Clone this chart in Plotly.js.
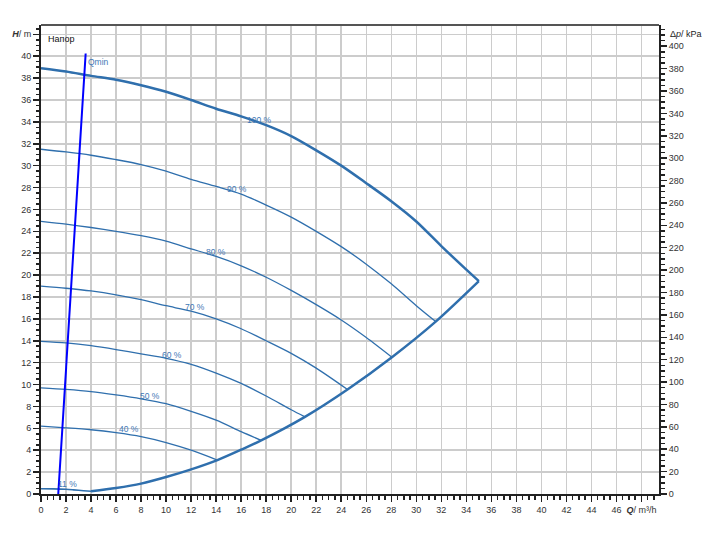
<!DOCTYPE html>
<html>
<head>
<meta charset="utf-8">
<script src="https://cdn.plot.ly/plotly-3.0.1.min.js"></script>
<style>html,body{margin:0;padding:0;background:#fff;}#chart{width:708px;height:535px;}</style>
</head>
<body>
<div id="chart"></div>
<script>
// Speed curves (Q in m³/h, H in m)
const q100 = [0,2,4,6,8,10,12,14,16,18,20,22,24,26,28,30,32,34,35.0];
const h100 = [38.9,38.6,38.2,37.85,37.35,36.75,36.0,35.2,34.5,33.7,32.7,31.4,30.0,28.4,26.75,24.9,22.65,20.5,19.45];
const q90 = [0,2,4,6,8,10,12,14,16,18,20,22,24,26,28,30,31.55];
const h90 = [31.5,31.25,30.95,30.55,30.1,29.5,28.75,28.1,27.4,26.4,25.3,24.0,22.6,21.0,19.2,17.2,15.75];
const q80 = [0,2,4,6,8,10,12,14,16,18,20,22,24,26,28.05];
const h80 = [24.9,24.65,24.35,24.0,23.6,23.1,22.4,21.7,20.85,19.8,18.6,17.3,15.9,14.3,12.5];
const q70 = [0,2,4,6,8,10,12,14,16,18,20,22,24.5];
const h70 = [19.0,18.8,18.55,18.2,17.75,17.2,16.7,16.0,15.1,14.0,12.85,11.5,9.55];
const q60 = [0,2,4,6,8,10,12,14,16,18,20,21.1];
const h60 = [13.95,13.8,13.55,13.2,12.8,12.4,11.85,11.05,10.1,8.95,7.7,7.05];
const q50 = [0,2,4,6,8,10,12,14,16,17.6];
const h50 = [9.7,9.55,9.35,9.05,8.7,8.25,7.55,6.75,5.7,4.9];
const q40 = [0,2,4,6,8,10,12,14.1];
const h40 = [6.2,6.05,5.87,5.6,5.24,4.7,4.0,3.1];
const q11 = [0,1,2,2.6,3.4,4.0];
const h11 = [0.48,0.47,0.43,0.38,0.3,0.25];
// Limit curve (end of speed curves)
const qLim = [4.0,6,8,10,12,14.1,16,17.6,21.1,24.5,28.05,31.55,35.0];
const hLim = [0.25,0.55,0.95,1.55,2.25,3.1,4.05,4.9,7.05,9.55,12.5,15.75,19.45];
// Qmin line
const qMin = [1.38,3.57];
const hMin = [0,40.25];

// Curve labels
const curveLabels = ['100 %','90 %','80 %','70 %','60 %','50 %','40 %','11 %'];
const labelQ = [17.5,15.7,14.0,12.3,10.5,8.7,7.05,2.1];
const labelH = [34.15,27.85,22.1,17.1,12.7,8.95,5.9,0.9];

// Tick labels
const xTicks = [0,2,4,6,8,10,12,14,16,18,20,22,24,26,28,30,32,34,36,38,40,42,44,46,48];
const yTicks = [0,2,4,6,8,10,12,14,16,18,20,22,24,26,28,30,32,34,36,38,40,42];
const y2Ticks = [0,20,40,60,80,100,120,140,160,180,200,220,240,260,280,300,320,340,360,380,400];

const blue = '#2f6fad';
const font = 'Liberation Sans, Arial, sans-serif';

function line(x, y, w) {
  return {x: x, y: y, type: 'scatter', mode: 'lines', line: {color: blue, width: w, shape: 'spline', smoothing: 0.8}, hoverinfo: 'skip', showlegend: false};
}

const traces = [
  line(q90, h90, 1.3), line(q80, h80, 1.3), line(q70, h70, 1.3), line(q60, h60, 1.3),
  line(q50, h50, 1.3), line(q40, h40, 1.3), line(q11, h11, 1.6),
  line(q100, h100, 2.5), line(qLim, hLim, 2.5),
  {x: qMin, y: hMin, type: 'scatter', mode: 'lines', line: {color: '#0000ff', width: 2}, hoverinfo: 'skip', showlegend: false},
  {x: [0], y: [0], yaxis: 'y2', type: 'scatter', mode: 'markers', marker: {opacity: 0}, hoverinfo: 'skip', showlegend: false}
];

const yTop = 42.85;
const kPaPerM = 9.777;

const annotations = curveLabels.map((t, i) => ({
  x: labelQ[i], y: labelH[i], text: t, showarrow: false,
  font: {family: font, size: 8.5, color: '#3f78b5'}, xanchor: 'center', yanchor: 'middle'
}));
annotations.push({x: 3.6, y: 39.5, text: 'Qmin', showarrow: false, xanchor: 'left', yanchor: 'middle',
  font: {family: font, size: 8.5, color: '#3f78b5'}});
annotations.push({xref: 'paper', yref: 'paper', x: 0.008, y: 0.985, text: 'Напор', showarrow: false,
  xanchor: 'left', yanchor: 'top', font: {family: font, size: 9, color: '#111'}});
annotations.push({xref: 'paper', yref: 'paper', x: 1.0, xshift: 9, y: 0.981, text: 'Δ<i>p</i>/ kPa', showarrow: false,
  xanchor: 'left', yanchor: 'middle', font: {family: font, size: 9, color: '#222'}});

const xText = xTicks.map(v => v === 48 ? '<b><i>Q</i></b>/ m³/h' : String(v));
const yText = yTicks.map(v => v === 42 ? '<b><i>H</i></b>/ m' : String(v));

const layout = {
  width: 708, height: 535,
  margin: {l: 41, r: 49, t: 25, b: 41, pad: 0},
  paper_bgcolor: '#fff', plot_bgcolor: '#fff',
  font: {family: font, size: 9, color: '#222'},
  xaxis: {
    range: [0, 49.4], tickmode: 'array', tickvals: xTicks, ticktext: xText,
    showgrid: true, gridcolor: '#cccccc', gridwidth: 1.5,
    showline: true, linecolor: '#222', linewidth: 2, mirror: false,
    ticks: 'outside', ticklen: 6, tickwidth: 1.5, tickcolor: '#222',
    minor: {tickmode: 'linear', tick0: 0, dtick: 0.5, ticks: 'outside', ticklen: 3.5, tickwidth: 1.5, tickcolor: '#222', showgrid: false},
    zeroline: false, fixedrange: true, tickfont: {family: font, size: 9, color: '#333'}
  },
  yaxis: {
    range: [0, yTop], tickmode: 'array', tickvals: yTicks, ticktext: yText,
    showgrid: true, gridcolor: '#cccccc', gridwidth: 1.5,
    showline: true, linecolor: '#222', linewidth: 2,
    ticks: 'outside', ticklen: 6, tickwidth: 1.5, tickcolor: '#222',
    minor: {tickmode: 'linear', tick0: 0, dtick: 0.5, ticks: 'outside', ticklen: 3.5, tickwidth: 1.5, tickcolor: '#222', showgrid: false},
    zeroline: false, fixedrange: true, tickfont: {family: font, size: 9, color: '#333'}
  },
  yaxis2: {
    overlaying: 'y', side: 'right', range: [0, yTop * kPaPerM],
    tickmode: 'array', tickvals: y2Ticks, ticktext: y2Ticks.map(String),
    showgrid: false, showline: true, linecolor: '#222', linewidth: 2,
    ticks: 'outside', ticklen: 6, tickwidth: 1.5, tickcolor: '#222',
    minor: {tickmode: 'linear', tick0: 0, dtick: 5, ticks: 'outside', ticklen: 3.5, tickwidth: 1.5, tickcolor: '#222', showgrid: false},
    zeroline: false, fixedrange: true, tickfont: {family: font, size: 9, color: '#333'}
  },
  shapes: [
    {type: 'line', xref: 'paper', yref: 'paper', x0: 0, x1: 1, y0: 1, y1: 1, line: {color: '#555', width: 2}}
  ],
  annotations: annotations
};

Plotly.newPlot('chart', traces, layout, {displayModeBar: false, staticPlot: true});
</script>
</body>
</html>
